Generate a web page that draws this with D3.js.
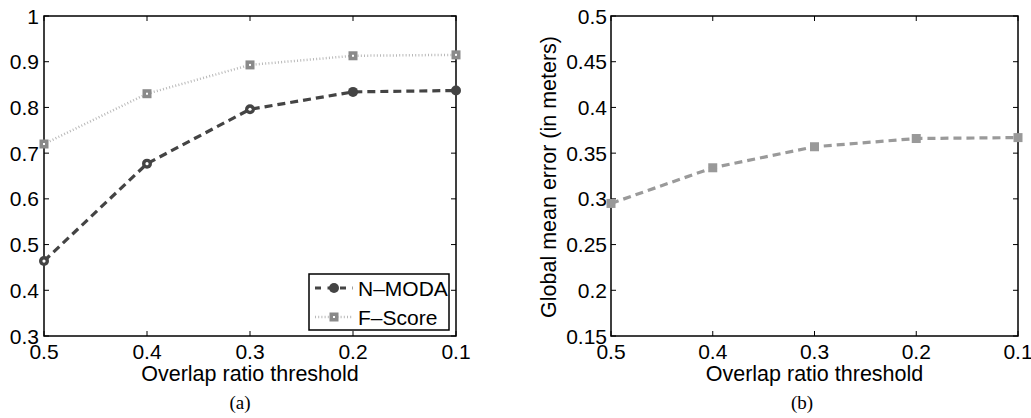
<!DOCTYPE html>
<html>
<head>
<meta charset="utf-8">
<script src="https://cdn.jsdelivr.net/npm/d3@7"></script>
<style>
  body { margin: 0; background: #fff; }
  svg text { font-family: "Liberation Sans", Arial, sans-serif; fill: #000; }
  .caption { font-family: "Liberation Serif", "Times New Roman", serif; }
</style>
</head>
<body>
<div id="chart"></div>
<script>
// thresholds shown on the x axis (reversed: 0.5 on the left)
const thresholds = [0.5, 0.4, 0.3, 0.2, 0.1];
const xTickLabels = ['0.5', '0.4', '0.3', '0.2', '0.1'];

// panel (a)
const nModa = [0.464, 0.677, 0.796, 0.834, 0.837];
const fScore = [0.720, 0.830, 0.893, 0.913, 0.915];
const yTicksA = [0.3, 0.4, 0.5, 0.6, 0.7, 0.8, 0.9, 1];

// panel (b)
const meanError = [0.295, 0.334, 0.357, 0.366, 0.367];
const yTicksB = [0.15, 0.2, 0.25, 0.3, 0.35, 0.4, 0.45, 0.5];

const svg = d3.select('#chart')
  .append('svg')
  .attr('width', 1031)
  .attr('height', 418);

// Draws one boxed MATLAB-style panel and returns its scales
function drawPanel(box, yDomain, yTicks, yFmt, opts) {
  const x = d3.scaleLinear().domain([0.5, 0.1]).range([box.left, box.right]);
  const y = d3.scaleLinear().domain(yDomain).range([box.bottom, box.top]);
  const g = svg.append('g');
  const tick = 5;

  // inward ticks on all four sides
  const xt = g.append('g');
  thresholds.forEach(t => {
    xt.append('line').attr('x1', x(t)).attr('x2', x(t))
      .attr('y1', box.bottom).attr('y2', box.bottom - tick)
      .attr('stroke', '#000').attr('stroke-width', 1);
    xt.append('line').attr('x1', x(t)).attr('x2', x(t))
      .attr('y1', box.top).attr('y2', box.top + tick)
      .attr('stroke', '#000').attr('stroke-width', 1);
  });
  yTicks.forEach(t => {
    xt.append('line').attr('x1', box.left).attr('x2', box.left + tick)
      .attr('y1', y(t)).attr('y2', y(t))
      .attr('stroke', '#000').attr('stroke-width', 1);
    xt.append('line').attr('x1', box.right).attr('x2', box.right - tick)
      .attr('y1', y(t)).attr('y2', y(t))
      .attr('stroke', '#000').attr('stroke-width', 1);
  });

  // tick labels
  g.selectAll('.xlab')
    .data(thresholds)
    .enter()
    .append('text')
    .attr('x', d => x(d))
    .attr('y', box.bottom + 23)
    .attr('text-anchor', 'middle')
    .style('font-size', '21px')
    .text((d, i) => xTickLabels[i]);

  g.selectAll('.ylab')
    .data(yTicks)
    .enter()
    .append('text')
    .attr('x', box.left - opts.yLabelGap)
    .attr('y', d => y(d))
    .attr('dy', '0.36em')
    .attr('text-anchor', 'end')
    .style('font-size', '21px')
    .text(yFmt);

  // axis box
  g.append('rect')
    .attr('x', box.left).attr('y', box.top)
    .attr('width', box.right - box.left)
    .attr('height', box.bottom - box.top)
    .attr('fill', 'none')
    .attr('stroke', '#000')
    .attr('stroke-width', 1.5);

  // axis title
  g.append('text')
    .attr('x', (box.left + box.right) / 2)
    .attr('y', box.bottom + 45)
    .attr('text-anchor', 'middle')
    .style('font-size', '21.5px')
    .text('Overlap ratio threshold');

  // caption
  g.append('text')
    .attr('class', 'caption')
    .attr('x', opts.captionX)
    .attr('y', 409)
    .attr('text-anchor', 'middle')
    .style('font-size', '19px')
    .text(opts.caption);

  return { x, y, g };
}

const line = (x, y) => d3.line().x((d, i) => x(thresholds[i])).y(d => y(d));

// ---- panel (a) ----
const A = drawPanel({ left: 44, right: 456, top: 16, bottom: 336 },
  [0.3, 1], yTicksA, d => d === 1 ? '1' : d3.format('.1f')(d),
  { yLabelGap: 5, caption: '(a)', captionX: 240 });

A.g.append('path')
  .datum(fScore)
  .attr('d', line(A.x, A.y))
  .attr('fill', 'none')
  .attr('stroke', '#b8b8b8')
  .attr('stroke-width', 2.5)
  .attr('stroke-dasharray', '1,2.2');

A.g.append('path')
  .datum(nModa)
  .attr('d', line(A.x, A.y))
  .attr('fill', 'none')
  .attr('stroke', '#444')
  .attr('stroke-width', 3.2)
  .attr('stroke-dasharray', '8,5');

A.g.selectAll('.fs')
  .data(fScore)
  .enter()
  .append('rect')
  .attr('x', (d, i) => A.x(thresholds[i]) - 4.5)
  .attr('y', d => A.y(d) - 4.5)
  .attr('width', 9).attr('height', 9)
  .attr('fill', '#8a8a8a');
A.g.selectAll('.fsdot')
  .data(fScore)
  .enter()
  .append('rect')
  .attr('x', (d, i) => A.x(thresholds[i]) - 1)
  .attr('y', d => A.y(d) - 1)
  .attr('width', 2).attr('height', 2)
  .attr('fill', '#fff');

A.g.selectAll('.nm')
  .data(nModa)
  .enter()
  .append('circle')
  .attr('cx', (d, i) => A.x(thresholds[i]))
  .attr('cy', d => A.y(d))
  .attr('r', 5)
  .attr('fill', '#444');
A.g.selectAll('.nmdot')
  .data(nModa.slice(0, 3))
  .enter()
  .append('circle')
  .attr('cx', (d, i) => A.x(thresholds[i]))
  .attr('cy', d => A.y(d))
  .attr('r', 1.6)
  .attr('fill', '#fff');

// legend
const leg = A.g.append('g');
leg.append('rect')
  .attr('x', 309).attr('y', 274)
  .attr('width', 140).attr('height', 56)
  .attr('fill', '#fff')
  .attr('stroke', '#000')
  .attr('stroke-width', 1.5);
leg.append('line')
  .attr('x1', 315).attr('x2', 353).attr('y1', 288).attr('y2', 288)
  .attr('stroke', '#444').attr('stroke-width', 3.2)
  .attr('stroke-dasharray', '6,6.5');
leg.append('circle').attr('cx', 334).attr('cy', 288).attr('r', 5).attr('fill', '#444');
leg.append('line')
  .attr('x1', 315).attr('x2', 353).attr('y1', 317).attr('y2', 317)
  .attr('stroke', '#b8b8b8').attr('stroke-width', 2.5)
  .attr('stroke-dasharray', '1,2.2');
leg.append('rect').attr('x', 329.5).attr('y', 312.5).attr('width', 9).attr('height', 9).attr('fill', '#8a8a8a');
leg.append('rect').attr('x', 333).attr('y', 316).attr('width', 2).attr('height', 2).attr('fill', '#fff');
leg.append('text').attr('x', 358).attr('y', 288).attr('dy', '0.36em')
  .style('font-size', '21px').text('N\u2013MODA');
leg.append('text').attr('x', 358).attr('y', 317).attr('dy', '0.36em')
  .style('font-size', '21px').text('F\u2013Score');

// ---- panel (b) ----
const B = drawPanel({ left: 611, right: 1018, top: 16, bottom: 336 },
  [0.15, 0.5], yTicksB, d => d3.format('')(+d.toFixed(2)),
  { yLabelGap: 4, caption: '(b)', captionX: 802 });

B.g.append('path')
  .datum(meanError)
  .attr('d', line(B.x, B.y))
  .attr('fill', 'none')
  .attr('stroke', '#9a9a9a')
  .attr('stroke-width', 3.2)
  .attr('stroke-dasharray', '8,5');

B.g.selectAll('.me')
  .data(meanError)
  .enter()
  .append('rect')
  .attr('x', (d, i) => B.x(thresholds[i]) - 4.5)
  .attr('y', d => B.y(d) - 4.5)
  .attr('width', 9).attr('height', 9)
  .attr('fill', '#999');

B.g.append('text')
  .attr('transform', 'translate(556,177) rotate(-90)')
  .attr('text-anchor', 'middle')
  .style('font-size', '21.5px')
  .text('Global mean error (in meters)');
</script>
</body>
</html>
